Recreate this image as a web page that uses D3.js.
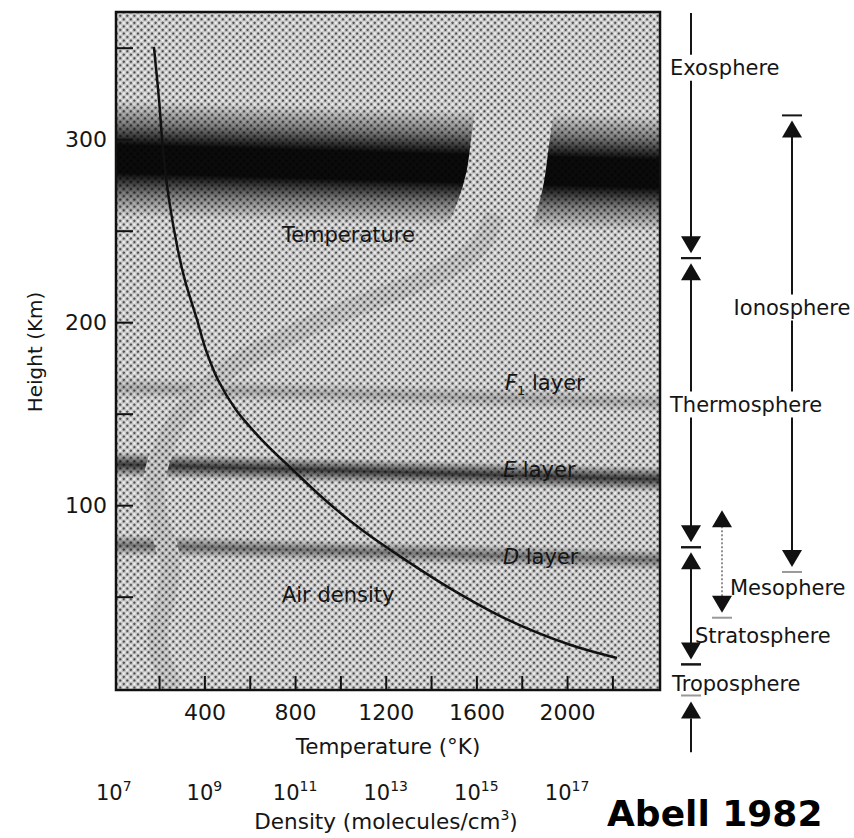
<!DOCTYPE html>
<html>
<head>
<meta charset="utf-8">
<script src="https://cdn.jsdelivr.net/npm/d3@7"></script>
<style>
  body { margin: 0; background: #fff; }
  svg { display: block; font-family: "DejaVu Sans", sans-serif; }
</style>
</head>
<body>
<svg id="chart" width="854" height="838"></svg>
<script>

// air density profile: height (km) -> molecules / cm3
const densityHeights = [350.4, 321.4, 294.1, 266.8, 239.5, 223.1, 201.2, 184.8, 168.4, 152, 135.6, 119.2, 102.8, 86.4, 70.1, 53.7, 37.3, 23.7, 16.5]
const densityValues = [7.7e7, 1.0e8, 1.22e8, 1.66e8, 2.6e8, 3.7e8, 6.9e8, 1.08e9, 2.0e9, 5.0e9, 1.87e10, 9.0e10, 4.6e11, 3.0e12, 2.7e13, 3.0e14, 5.0e15, 1.16e17, 1.26e18]

// temperature profile (the broad grey band): height (km) -> K
const tempHeights = [0, 18, 32, 48, 65, 81, 97, 114, 130, 147, 160, 177, 190, 203, 218, 230, 242, 259, 278, 300, 332, 369]
const tempValues = [260, 205, 195, 225, 250, 225, 190, 180, 215, 285, 380, 535, 735, 955, 1265, 1485, 1615, 1680, 1725, 1750, 1785, 1815]

// ionospheric layers (dark bands): centre height and half thickness in km
const bandNames = ["F2", "F1", "E", "D"]
const bandKm = [289, 164, 122, 78]
const bandHalfKm = [32, 6, 7, 6]

// atmosphere zones on the right
const zoneNames = ["Exosphere", "Thermosphere", "Stratosphere", "Troposphere", "Ionosphere", "Mesophere"]
const zoneTopKm = [369, 235, 77, 13, 313, 100]
const zoneBottomKm = [235, 77, 13, -4, 63.5, 38.5]
const zoneLabelKm = [339, 155, 28.5, 2.3, 208, 55]

// axis ticks
const heightTicks = [50, 100, 150, 200, 250, 300, 350]
const tempTicks = [200, 400, 600, 800, 1000, 1200, 1400, 1600, 1800, 2000, 2200]
const densityExps = [7, 9, 11, 13, 15, 17]

const plot = {left: 116, right: 660, top: 12, bottom: 690}

const svg = d3.select('#chart')

let x = d3.scaleLinear().domain([10, 2410]).range([plot.left, plot.right])
let y = d3.scaleLinear().domain([-1, 369.5]).range([plot.bottom, plot.top])
let dx = d3.scaleLog().domain([1e7, 1e17]).range([x(0), x(2000)])

const defs = svg.append('defs')

// halftone screen of the scanned print
const pat = defs.append('pattern')
  .attr('id', 'ht')
  .attr('width', 5).attr('height', 5)
  .attr('patternUnits', 'userSpaceOnUse')
  .attr('patternTransform', 'rotate(45)')
pat.append('rect').attr('width', 5).attr('height', 5).attr('fill', '#cbcbcb')
pat.append('circle').attr('cx', 1.25).attr('cy', 1.25).attr('r', 1.15).attr('fill', '#3c3c3c')
pat.append('circle').attr('cx', 3.75).attr('cy', 3.75).attr('r', 1.15).attr('fill', '#f6f6f6')

defs.append('clipPath').attr('id', 'plot-clip')
  .append('rect')
  .attr('x', plot.left).attr('y', plot.top)
  .attr('width', plot.right - plot.left).attr('height', plot.bottom - plot.top)

const g = svg.append('g').attr('clip-path', 'url(#plot-clip)')

g.append('rect')
  .attr('x', plot.left).attr('y', plot.top)
  .attr('width', plot.right - plot.left).attr('height', plot.bottom - plot.top)
  .attr('fill', 'url(#ht)')

// bands, slightly tilted (lower on the right)
const bandShade = [0.95, 0.2, 0.72, 0.45]
const tilt = 15 / 544
const cx = (plot.left + plot.right) / 2

bandNames.forEach(function(name, i){
  let cy = y(bandKm[i]) + 7
  let half = y(bandKm[i] - bandHalfKm[i]) - y(bandKm[i])
  let grad = defs.append('linearGradient')
    .attr('id', 'band-' + name)
    .attr('gradientUnits', 'userSpaceOnUse')
    .attr('x1', cx + tilt * half).attr('y1', cy - half)
    .attr('x2', cx - tilt * half).attr('y2', cy + half)
  let p = bandShade[i]
  let stops = i == 0
    ? [[0, 0], [0.2, 0.45 * p], [0.38, p], [0.62, p], [0.8, 0.45 * p], [1, 0]]
    : [[0, 0], [0.3, 0.6 * p], [0.5, p], [0.7, 0.6 * p], [1, 0]]
  stops.forEach(s => grad.append('stop')
    .attr('offset', s[0]).attr('stop-color', '#000').attr('stop-opacity', s[1]))

  g.append('rect')
    .attr('x', plot.left).attr('y', plot.top)
    .attr('width', plot.right - plot.left).attr('height', plot.bottom - plot.top)
    .attr('fill', 'url(#band-' + name + ')')
})

// temperature band: it hides the layers it crosses
const tempPts = tempHeights.map((h, i) => ({h: h, t: tempValues[i]}))
const tline = d3.line()
  .x(d => x(d.t))
  .y(d => y(d.h))
  .curve(d3.curveCatmullRom)

g.append('path').datum(tempPts)
  .attr('d', tline)
  .attr('fill', 'none')
  .attr('stroke', 'url(#ht)')
  .attr('stroke-width', 22)

g.append('path').datum(tempPts.filter(d => d.h >= 230))
  .attr('d', tline)
  .attr('fill', 'none')
  .attr('stroke', 'url(#ht)')
  .attr('stroke-width', 78)

g.append('path').datum(tempPts.filter(d => d.h <= 259))
  .attr('d', tline)
  .attr('fill', 'none')
  .attr('stroke', '#000')
  .attr('stroke-opacity', 0.07)
  .attr('stroke-width', 20)

// air density curve
const densPts = densityHeights.map((h, i) => ({h: h, v: densityValues[i]}))
g.append('path').datum(densPts)
  .attr('d', d3.line().x(d => dx(d.v)).y(d => y(d.h)).curve(d3.curveCatmullRom))
  .attr('fill', 'none')
  .attr('stroke', '#111')
  .attr('stroke-width', 2.5)

// labels inside the plot
const inner = svg.append('g').attr('font-size', 21).attr('fill', '#151515')
inner.append('text').attr('x', x(742)).attr('y', y(244)).text('Temperature')
inner.append('text').attr('x', x(742)).attr('y', y(47)).text('Air density')

let f1 = inner.append('text').attr('x', x(1726)).attr('y', y(163))
f1.append('tspan').attr('font-style', 'italic').text('F')
f1.append('tspan').attr('font-size', 13).attr('dy', 5).text('1')
f1.append('tspan').attr('dy', -5).text(' layer')

let el = inner.append('text').attr('x', x(1717)).attr('y', y(115.5))
el.append('tspan').attr('font-style', 'italic').text('E')
el.append('tspan').text(' layer')

let dl = inner.append('text').attr('x', x(1717)).attr('y', y(68))
dl.append('tspan').attr('font-style', 'italic').text('D')
dl.append('tspan').text(' layer')

// frame
svg.append('rect')
  .attr('x', plot.left).attr('y', plot.top)
  .attr('width', plot.right - plot.left).attr('height', plot.bottom - plot.top)
  .attr('fill', 'none')
  .attr('stroke', '#111')
  .attr('stroke-width', 2.5)

// axes, ticks pointing inwards
svg.append('g')
  .attr('transform', `translate(${plot.left},0)`)
  .call(d3.axisLeft(y).tickValues(heightTicks).tickSize(-17).tickPadding(9)
    .tickFormat(d => d % 100 == 0 ? d : ''))
  .call(g => g.select('.domain').remove())
  .call(g => g.selectAll('line').attr('stroke', '#111').attr('stroke-width', 2))
  .call(g => g.selectAll('text').attr('font-size', 22).attr('font-family', 'DejaVu Sans').attr('fill', '#151515'))

svg.append('g')
  .attr('transform', `translate(0,${plot.bottom})`)
  .call(d3.axisBottom(x).tickValues(tempTicks).tickSize(-14).tickPadding(14)
    .tickFormat(d => d % 400 == 0 ? d : ''))
  .call(g => g.select('.domain').remove())
  .call(g => g.selectAll('line').attr('stroke', '#111').attr('stroke-width', 2))
  .call(g => g.selectAll('text').attr('font-size', 22).attr('font-family', 'DejaVu Sans').attr('fill', '#151515'))

svg.append('text')
  .attr('x', 388).attr('y', 754)
  .attr('text-anchor', 'middle')
  .attr('font-size', 21.5)
  .attr('fill', '#151515')
  .text('Temperature (°K)')

// density scale under the temperature scale
densityExps.forEach(function(e){
  let t = svg.append('text')
    .attr('x', dx(Math.pow(10, e)))
    .attr('y', 800)
    .attr('text-anchor', 'middle')
    .attr('font-size', 21)
    .attr('fill', '#151515')
  t.append('tspan').text('10')
  t.append('tspan').attr('font-size', 14).attr('dy', -9).text(e)
})

let dt = svg.append('text')
  .attr('x', 386).attr('y', 829)
  .attr('text-anchor', 'middle')
  .attr('font-size', 21.5)
  .attr('fill', '#151515')
dt.append('tspan').text('Density (molecules/cm')
dt.append('tspan').attr('font-size', 14).attr('dy', -9).text('3')
dt.append('tspan').attr('dy', 9).text(')')

svg.append('text')
  .attr('transform', 'translate(35,352) rotate(-90)')
  .attr('text-anchor', 'middle')
  .attr('dominant-baseline', 'central')
  .attr('font-size', 20)
  .attr('fill', '#151515')
  .text('Height (Km)')

svg.append('text')
  .attr('x', 607).attr('y', 826)
  .attr('font-size', 36)
  .attr('font-weight', 'bold')
  .attr('fill', '#000')
  .text('Abell 1982')

// zone annotations on the right
const cols = [691, 792, 722]
const zoneCol = [0, 0, 0, 0, 1, 2]
const zoneLabelX = [670, 670, 695, 672, 792, 730]
const zoneAnchor = ['start', 'start', 'start', 'start', 'middle', 'start']

const ann = svg.append('g')
const boxes = []
zoneNames.forEach(function(name, i){
  let t = ann.append('text')
    .attr('x', zoneLabelX[i])
    .attr('y', y(zoneLabelKm[i]) + 7)
    .attr('text-anchor', zoneAnchor[i])
    .attr('font-size', 21)
    .attr('fill', '#151515')
    .text(name)
  boxes.push(t.node().getBBox())
})

let lines = [], arrows = [], bars = []
zoneNames.forEach(function(name, i){
  let cxz = cols[zoneCol[i]]
  let yt = y(zoneTopKm[i]), yb = y(zoneBottomKm[i])
  if (name == 'Troposphere'){
    bars.push([cxz, yt, false])
    bars.push([cxz, yb, true])
    arrows.push([cxz, yb + 6, 'up'])
    lines.push([cxz, yb + 23, y(-35), false])
    return
  }
  let open = name == 'Exosphere'
  if (!open){
    if (name != 'Mesophere') bars.push([cxz, yt, false])
    arrows.push([cxz, yt + 5, 'up'])
  }
  bars.push([cxz, yb, name == 'Ionosphere' || name == 'Mesophere'])
  arrows.push([cxz, yb - 5, 'down'])
  lines.push([cxz, open ? yt : yt + 21, yb - 21, name == 'Mesophere'])
})

// split the lines where a label crosses them
lines.forEach(function(l){
  let segs = [[l[1], l[2]]]
  boxes.forEach(function(b){
    if (l[0] < b.x - 2 || l[0] > b.x + b.width + 2) return
    let a = b.y - 1, z = b.y + b.height + 1
    let next = []
    segs.forEach(function(s){
      if (z <= s[0] || a >= s[1]) { next.push(s); return }
      if (a > s[0]) next.push([s[0], a])
      if (z < s[1]) next.push([z, s[1]])
    })
    segs = next
  })
  segs.forEach(s => ann.append('line')
    .attr('x1', l[0]).attr('x2', l[0])
    .attr('y1', s[0]).attr('y2', s[1])
    .attr('stroke', l[3] ? '#777' : '#151515')
    .attr('stroke-width', l[3] ? 1.6 : 2)
    .attr('stroke-dasharray', l[3] ? '2,2' : null))
})

bars.forEach(b => ann.append('line')
  .attr('x1', b[0] - 10).attr('x2', b[0] + 10)
  .attr('y1', b[1]).attr('y2', b[1])
  .attr('stroke', b[2] ? '#999' : '#151515')
  .attr('stroke-width', 2))

arrows.forEach(function(a){
  let s = a[2] == 'up' ? 1 : -1
  ann.append('path')
    .attr('d', `M${a[0]},${a[1]} L${a[0] - 10},${a[1] + s * 17} L${a[0] + 10},${a[1] + s * 17} Z`)
    .attr('fill', '#111')
})

</script>
</body>
</html>
